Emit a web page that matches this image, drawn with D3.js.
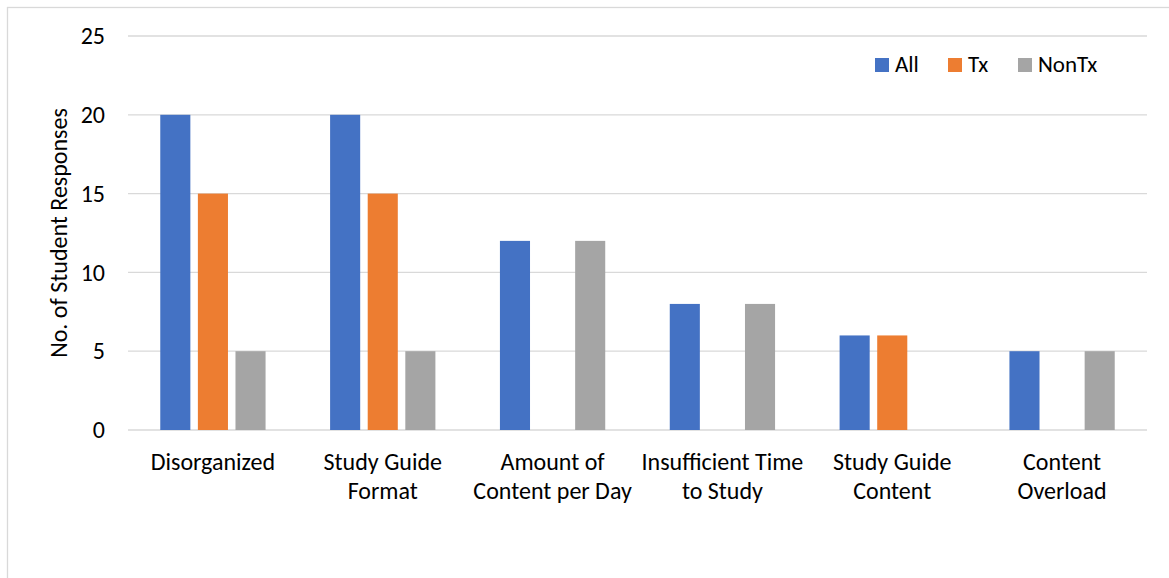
<!DOCTYPE html>
<meta charset="utf-8">
<title>Student responses</title>
<style>
body { margin: 0; background: #fff; }
text { font-family: Carlito, "Open Sans", "Liberation Sans", sans-serif; fill: #000; }
.grid line { stroke: #d9d9d9; stroke-width: 1.3px; }
.axis path, .axis line { display: none; }
</style>
<svg id="chart" width="1169" height="578"></svg>
<script src="https://d3js.org/d3.v7.min.js"></script>
<script>
const categories = [
  ["Disorganized"],
  ["Study Guide", "Format"],
  ["Amount of", "Content per Day"],
  ["Insufficient Time", "to Study"],
  ["Study Guide", "Content"],
  ["Content", "Overload"]
];
const seriesNames = ["All", "Tx", "NonTx"];
const allValues = [20, 20, 12, 8, 6, 5];
const txValues = [15, 15, 0, 0, 6, 0];
const nonTxValues = [5, 5, 12, 8, 0, 5];
const yTicks = [0, 5, 10, 15, 20, 25];
const colors = ["#4472c4", "#ed7d31", "#a5a5a5"];

const series = [allValues, txValues, nonTxValues];

let svg = d3.select("#chart"),
    margin = {top: 36, right: 22, bottom: 148, left: 128},
    width = 1169 - margin.left - margin.right,
    height = 578 - margin.top - margin.bottom;

// outer border
svg.append("rect")
  .attr("x", 7.5).attr("y", 7.5)
  .attr("width", 1180).attr("height", 600)
  .attr("fill", "none").attr("stroke", "#d9d9d9").attr("stroke-width", 1.3);

let g = svg.append("g").attr("transform", "translate(" + margin.left + "," + margin.top + ")");

let x0 = d3.scaleBand().domain(d3.range(categories.length)).range([0, width]).padding(0);
let x1 = d3.scaleBand().domain(d3.range(seriesNames.length))
  .range([x0.bandwidth() * 0.19, x0.bandwidth() * 0.81]).paddingInner(0.2).paddingOuter(0);
let y = d3.scaleLinear().domain([0, 25]).range([height, 0]);

g.append("g").attr("class", "grid")
  .selectAll("line").data(yTicks).enter().append("line")
    .attr("x1", 0).attr("x2", width)
    .attr("y1", d => y(d)).attr("y2", d => y(d));

g.append("g").attr("class", "axis")
  .call(d3.axisLeft(y).tickValues(yTicks).tickSize(0).tickPadding(23))
  .selectAll("text").style("font-size", "24px");

let group = g.selectAll(".cat")
  .data(categories.map((c, i) => i))
  .enter().append("g")
    .attr("transform", i => "translate(" + x0(i) + ",0)");

group.selectAll("rect")
  .data(i => series.map((s, k) => ({k: k, v: s[i]})).filter(d => d.v > 0))
  .enter().append("rect")
    .attr("x", d => x1(d.k))
    .attr("width", x1.bandwidth())
    .attr("y", d => y(d.v))
    .attr("height", d => y(0) - y(d.v))
    .attr("fill", d => colors[d.k]);

// category labels
group.append("text")
  .attr("text-anchor", "middle")
  .attr("x", x0.bandwidth() / 2)
  .attr("y", height + 40)
  .style("font-size", "24px")
  .selectAll("tspan")
  .data(i => categories[i])
  .enter().append("tspan")
    .attr("x", x0.bandwidth() / 2)
    .attr("dy", (d, j) => j === 0 ? 0 : 29)
    .text(d => d);

// y axis title
svg.append("text")
  .attr("transform", "translate(67," + (margin.top + height / 2) + ") rotate(-90)")
  .attr("text-anchor", "middle")
  .style("font-size", "24px")
  .text("No. of Student Responses");

// legend
let legendX = [875, 948, 1018];
let legend = svg.append("g").selectAll("g")
  .data(seriesNames).enter().append("g")
    .attr("transform", (d, i) => "translate(" + legendX[i] + ",58)");
legend.append("rect").attr("width", 14).attr("height", 14).attr("fill", (d, i) => colors[i]);
legend.append("text").attr("x", 20).attr("y", 14).style("font-size", "23px").text(d => d);
</script>
